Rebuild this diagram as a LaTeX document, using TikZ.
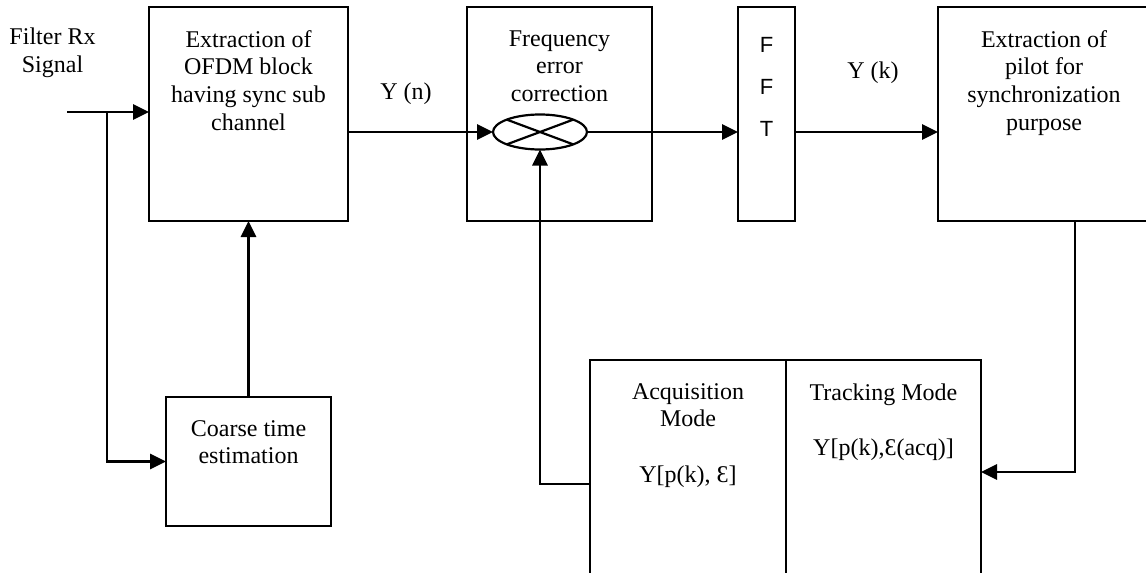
\documentclass[tikz,border=0pt]{standalone}
\usepackage{fontspec}
\setmainfont{Liberation Serif}
\newfontfamily\fftfont{Liberation Sans}
\usetikzlibrary{positioning,arrows.meta,shapes.geometric}
\usetikzlibrary{calc}

\begin{document}
\begin{tikzpicture}
  \newdimen\dist
  \dist=11.5pt

  \tikzstyle{block} = [
    % The shape:
    rectangle, minimum height=107pt, inner sep=0pt, outer sep=0pt,
    % The border:
    draw=black, line width=1.1pt
  ];
  \tikzstyle{caption} = [
    % Just text, hung from the top of a block
    align=center, inner sep=0pt,
    font=\fontsize{12}{13.8}\selectfont
  ];
  \tikzstyle{annotation} = [
    % Just text!
    align=center, inner sep=0pt,
    font=\fontsize{12}{13.8}\selectfont
  ];
  \tikzstyle{mixer} = [
    % The shape:
    ellipse, minimum width=47pt, minimum height=17.5pt,
    inner sep=0pt, outer sep=0pt,
    % The border:
    draw=black, line width=1.1pt
  ];
  \tikzstyle{flow} = [
    draw = black,
    line width=1.4pt,
    -{Triangle[length=8pt,width=7.5pt]}
  ];

  \useasboundingbox (0,0) rectangle (573pt,-286.5pt);
  \clip (0,0) rectangle (573pt,-286.5pt);

  \node [block, minimum width=99.5pt] (ofdm) at (124.25pt,-57pt) {};
  \node [block, minimum width=92.5pt, right = 59.5pt of ofdm] (freq) {};
  \node [block, minimum width=28.5pt, right = 43pt of freq] (fft) {};
  \node [block, minimum width=106pt, right = 71.5pt of fft] (pilot) {};
  \node [block, minimum width=82.5pt, minimum height=64.5pt,
         below = 88pt of ofdm] (coarse) {};
  \node [block, minimum width=98pt, minimum height=112pt] (acq) at (344pt,-236pt) {};
  \node [block, minimum width=97.5pt, minimum height=112pt, right = 0pt of acq] (track) {};

  \node [mixer] (mult) at (270pt,-66pt) {};
  \draw [line width=1.1pt] (mult.north west) -- (mult.south east)
                           (mult.south west) -- (mult.north east);

  \node [caption, below = \dist of ofdm.north] (ofdmText) {Extraction of\\OFDM block\\having sync sub\\channel};
  \node [caption, below = \dist of freq.north] (freqText) {Frequency\\error\\correction};
  \node [caption, below = 15pt of fft.north,
         font=\fftfont\fontsize{11}{21}\selectfont] (fftText) {F\\F\\T};
  \node [caption, below = \dist of pilot.north] (pilotText) {Extraction of\\pilot for\\synchronization\\purpose};
  \node [caption, below = \dist of coarse.north] (coarseText) {Coarse time\\estimation};
  \node [caption, below = \dist of acq.north] (acqText) {Acquisition\\Mode\\[13.8pt]Y[p(k), Ɛ]};
  \node [caption, below = \dist of track.north] (trackText) {Tracking Mode\\[13.8pt]Y[p(k),Ɛ(acq)]};

  \coordinate (input) at (33.5pt,-56pt);
  \coordinate [right = 20pt of input] (split);
  \node [annotation, above = 17pt of input, xshift=-7.25pt] (rxLabel) {Filter Rx\\Signal};

  \path [flow] (input) to (input -| ofdm.west);
  \path [flow] (split) |- (coarse.west);
  \path [flow] (coarse.north) to (coarse.north |- ofdm.south);
  \path [flow] (mult.west -| ofdm.east) to node [annotation, pos=0.4, above=13pt] (yn) {Y (n)} (mult.west);
  \path [flow] (mult.east) to (mult.east -| fft.west);
  \path [flow] (mult.east -| fft.east) to node [annotation, pos=0.545, above=23.5pt] (yk) {Y (k)} (mult.east -| pilot.west);

  \coordinate [right = 68.5pt of pilot.south west] (tap);
  \path [flow] (tap) |- (track.east);
  \path [flow] ([yshift=-6pt]acq.west) -| (mult.south);
\end{tikzpicture}
\end{document}
